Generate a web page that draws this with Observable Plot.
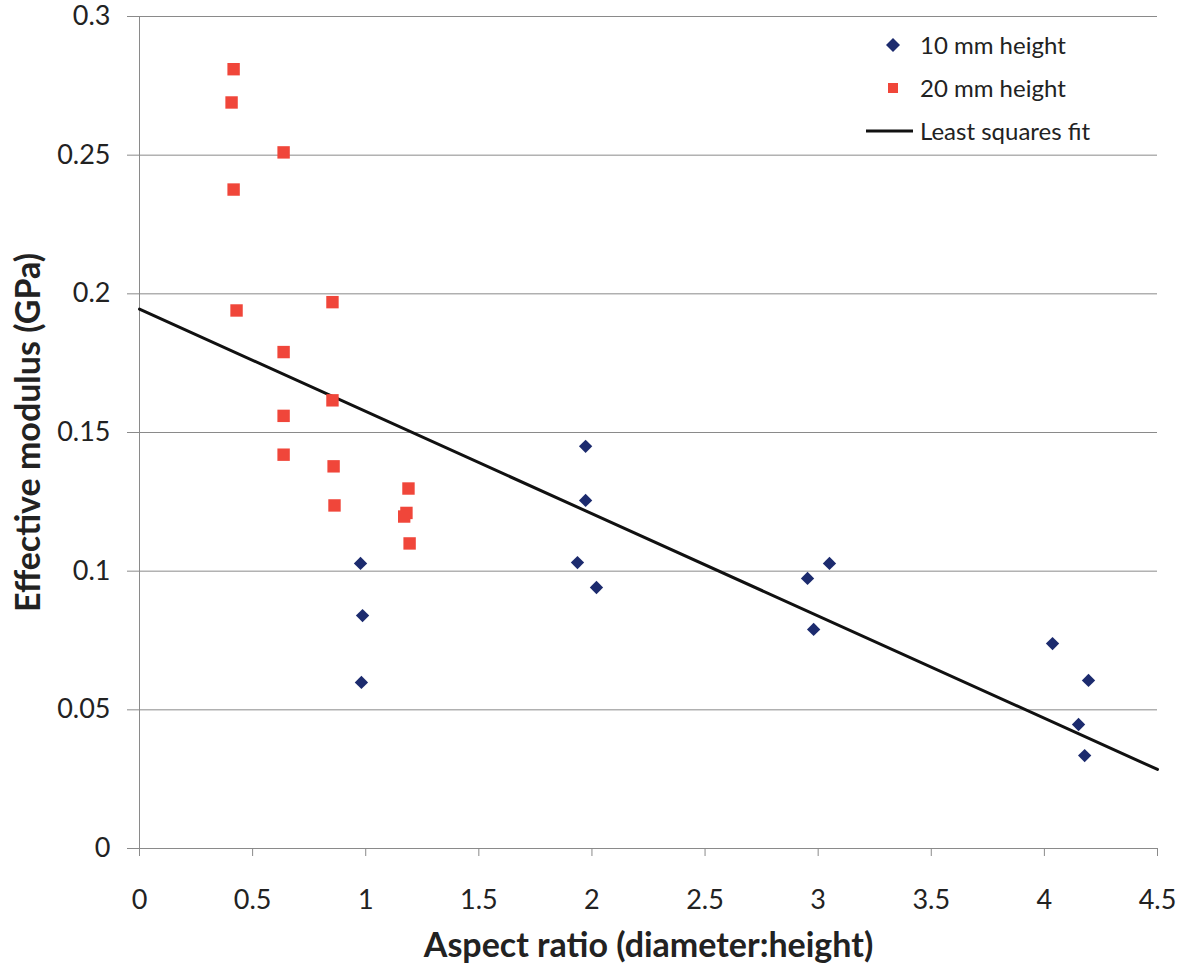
<!DOCTYPE html>
<html>
<head>
<meta charset="utf-8">
<script src="https://cdn.jsdelivr.net/npm/d3@7"></script>
<script src="https://cdn.jsdelivr.net/npm/@observablehq/plot@0.6"></script>
<style>
  html, body { margin: 0; padding: 0; background: #fff; }
  #wrap { position: relative; width: 1184px; height: 968px; font-family: Lato, "Open Sans", sans-serif; }
  #legend { position: absolute; left: 862px; top: 23px; font-size: 24px; color: #222; }
  #legend .row { display: flex; align-items: center; height: 43px; }
  #legend svg { width: 54px; height: 20px; margin-right: 4px; }
  svg { overflow: visible; }
</style>
</head>
<body>
<div id="wrap"></div>
<script>
const series10 = "10 mm height";
const series20 = "20 mm height";
const fitLabel = "Least squares fit";

const x10 = [0.977, 0.986, 0.981, 1.972, 1.972, 1.936, 2.02, 2.953, 3.05, 2.98, 4.036, 4.195, 4.151, 4.178];
const y10 = [0.1028, 0.084, 0.0599, 0.145, 0.1255, 0.1031, 0.0941, 0.0974, 0.1028, 0.079, 0.0739, 0.0606, 0.0447, 0.0335];

const x20 = [0.416, 0.407, 0.416, 0.429, 0.637, 0.637, 0.637, 0.637, 0.853, 0.853, 0.858, 0.862, 1.189, 1.18, 1.17, 1.194];
const y20 = [0.281, 0.269, 0.2376, 0.194, 0.251, 0.179, 0.156, 0.142, 0.197, 0.1616, 0.1378, 0.1237, 0.1298, 0.121, 0.1197, 0.110];

const fitX = [0, 4.5];
const fitY = [0.1945, 0.0285];

const xTicks = [0, 0.5, 1, 1.5, 2, 2.5, 3, 3.5, 4, 4.5];
const yTicks = [0, 0.05, 0.1, 0.15, 0.2, 0.25, 0.3];

const xLabel = "Aspect ratio (diameter:height)";
const yLabel = "Effective modulus (GPa)";

const blue = "#1c2b6e";
const red = "#f0463a";

const d10 = x10.map((x, i) => ({x, y: y10[i]}));
const d20 = x20.map((x, i) => ({x, y: y20[i]}));
const fit = fitX.map((x, i) => ({x, y: fitY[i]}));

const chart = Plot.plot({
  width: 1184,
  height: 968,
  marginLeft: 139,
  marginRight: 27,
  marginTop: 16,
  marginBottom: 120,
  style: { fontFamily: "Lato, 'Open Sans', sans-serif", background: "#fff", color: "#222", overflow: "visible" },
  x: { domain: [0, 4.5] },
  y: { domain: [0, 0.3] },
  marks: [
    Plot.gridY(yTicks, { stroke: "#8a8a8a", strokeOpacity: 1, strokeWidth: 1 }),
    Plot.ruleX([0], { stroke: "#8a8a8a", strokeWidth: 1 }),
    Plot.axisY(yTicks, {
      tickSize: 12, tickPadding: 17, fontSize: 27, stroke: "#8a8a8a",
      tickFormat: d => String(d),
      label: yLabel, labelAnchor: "center", labelOffset: 124, labelArrow: "none"
    }),
    Plot.axisX(xTicks, {
      tickSize: 8, tickPadding: 33, fontSize: 27, stroke: "#8a8a8a",
      tickFormat: d => String(d),
      label: xLabel, labelAnchor: "center", labelOffset: 108, labelArrow: "none"
    }),
    Plot.line(fit, { x: "x", y: "y", stroke: "#111", strokeWidth: 3 }),
    Plot.dot(d20, { x: "x", y: "y", symbol: "square", fill: red, r: 7 }),
    Plot.dot(d10, { x: "x", y: "y", symbol: "diamond2", fill: blue, r: 6 })
  ]
});

// bold axis labels
chart.querySelectorAll("g[aria-label='x-axis label'] text, g[aria-label='y-axis label'] text").forEach(t => {
  t.setAttribute("font-weight", "bold");
  t.setAttribute("font-size", "34");
  t.setAttribute("fill", "#222");
});

const wrap = document.getElementById("wrap");
wrap.appendChild(chart);

const legend = document.createElement("div");
legend.id = "legend";
legend.innerHTML = `
  <div class="row"><svg viewBox="0 0 54 20"><path d="M31 3 L38 10 L31 17 L24 10 Z" fill="${blue}"/></svg><span>${series10}</span></div>
  <div class="row"><svg viewBox="0 0 54 20"><rect x="26" y="5" width="10" height="10" fill="${red}"/></svg><span>${series20}</span></div>
  <div class="row"><svg viewBox="0 0 54 20"><line x1="4" y1="10" x2="51" y2="10" stroke="#111" stroke-width="3"/></svg><span>${fitLabel}</span></div>`;
wrap.appendChild(legend);
</script>
</body>
</html>
